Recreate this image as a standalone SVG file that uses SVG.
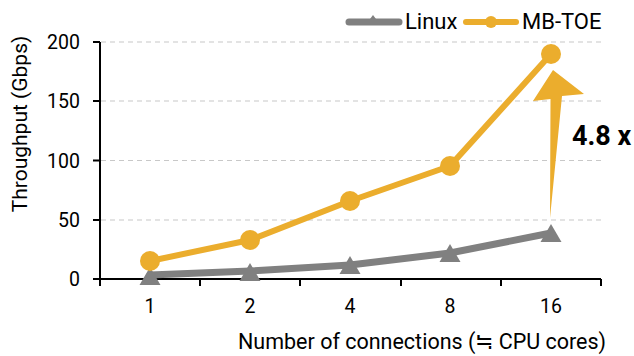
<svg xmlns="http://www.w3.org/2000/svg" width="634" height="356" viewBox="0 0 634 356">
<style>
  text { font-family: Roboto, "Liberation Sans", sans-serif; fill: #000; }
  .tick { font-size: 19.5px; }
  .ytick { text-anchor: end; }
  .xtick { text-anchor: middle; }
  .title { font-size: 21.5px; }
  .leg { font-size: 22px; }
  .grid { stroke: #c8c8c8; stroke-width: 1.2; stroke-dasharray: 5 4; fill: none; }
  .axis { stroke: #000; stroke-width: 2; fill: none; }
  .linux { stroke: #808080; stroke-width: 7; fill: none; stroke-linejoin: round; stroke-linecap: round; }
  .mbtoe { stroke: #ebad2d; stroke-width: 6; fill: none; stroke-linejoin: round; stroke-linecap: round; }
  .tri { fill: #808080; }
  .dot { fill: #ebad2d; }
</style>
<defs>
  <polygon id="tri" points="0,-9 10.5,9 -10.5,9"/>
</defs>
<rect width="634" height="356" fill="#fff"/>
<g id="grid">
  <line class="grid" x1="101" y1="42" x2="601" y2="42"/>
  <line class="grid" x1="101" y1="101" x2="601" y2="101"/>
  <line class="grid" x1="101" y1="160.5" x2="601" y2="160.5"/>
  <line class="grid" x1="101" y1="220" x2="601" y2="220"/>
</g>
<g id="axes">
  <path class="axis" d="M100,42 V279 M93,42 H100 M93,101 H100 M93,160.5 H100 M93,220 H100 M93,279 H601"/>
  <path class="axis" d="M100,279 V286 M200,279 V286 M300,279 V286 M401,279 V286 M501,279 V286 M601,279 V286"/>
  <text class="tick ytick" x="80" y="49">200</text>
  <text class="tick ytick" x="80" y="108">150</text>
  <text class="tick ytick" x="80" y="167.5">100</text>
  <text class="tick ytick" x="80" y="227">50</text>
  <text class="tick ytick" x="80" y="286">0</text>
  <text class="tick xtick" x="150" y="312.5">1</text>
  <text class="tick xtick" x="250" y="312.5">2</text>
  <text class="tick xtick" x="350" y="312.5">4</text>
  <text class="tick xtick" x="450" y="312.5">8</text>
  <text class="tick xtick" x="551" y="312.5">16</text>
  <text class="title" x="238" y="349">Number of connections (≒ CPU cores)</text>
  <text class="title" transform="translate(27,124) rotate(-90)" text-anchor="middle" style="font-size:21px">Throughput (Gbps)</text>
</g>
<g id="series-linux">
  <polyline class="linux" points="150,275 250,271 350,265 450,253 551,233"/>
  <use href="#tri" class="tri" x="150" y="276"/>
  <use href="#tri" class="tri" x="250" y="272"/>
  <use href="#tri" class="tri" x="350" y="265"/>
  <use href="#tri" class="tri" x="450" y="253"/>
  <use href="#tri" class="tri" x="551" y="233"/>
</g>
<g id="series-mbtoe">
  <polyline class="mbtoe" points="150,261 250,240 350,201 450,166 551,54"/>
  <circle class="dot" cx="150" cy="261" r="10"/>
  <circle class="dot" cx="250" cy="240" r="10"/>
  <circle class="dot" cx="350" cy="201" r="10"/>
  <circle class="dot" cx="450" cy="166" r="10"/>
  <circle class="dot" cx="551" cy="54" r="10"/>
</g>
<g id="annotation">
  <polygon fill="#ebad2d" points="550,218 550.5,99 533,101 553,70 584,94 562,96"/>
  <text x="572" y="145" font-size="27" font-weight="bold">4.8 x</text>
</g>
<g id="legend">
  <line class="linux" x1="349" y1="22" x2="399" y2="22" stroke-width="6"/>
  <polygon class="tri" points="373,15 379,23 367,23"/>
  <text class="leg" x="405" y="29">Linux</text>
  <line class="mbtoe" x1="466" y1="22" x2="516" y2="22" stroke-width="6"/>
  <circle class="dot" cx="491" cy="22" r="6"/>
  <text class="leg" x="522" y="29">MB-TOE</text>
</g>
</svg>
